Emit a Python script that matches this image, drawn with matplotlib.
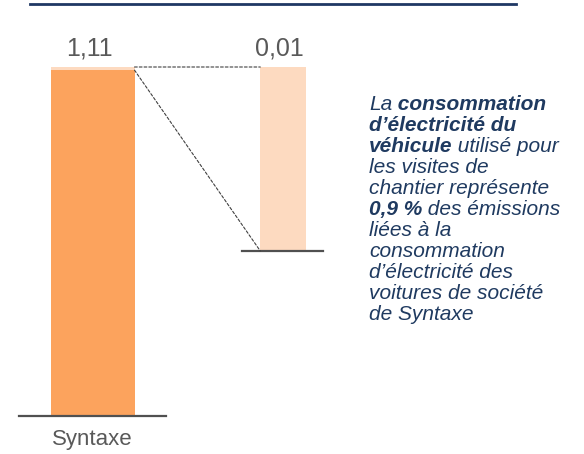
import matplotlib
matplotlib.use('Agg')
import matplotlib.pyplot as plt
from matplotlib.patches import ConnectionPatch
from matplotlib.lines import Line2D

# Données
categorie = 'Syntaxe'
total_syntaxe = 1.11
part_vehicule = 0.01
etiquettes = ['1,11', '0,01']

# Texte de commentaire (morceau, gras ?)
commentaire = [
    [('La', False), (' consommation', True)],
    [('d’électricité du', True)],
    [('véhicule', True), (' utilisé pour', False)],
    [('les visites de', False)],
    [('chantier représente', False)],
    [('0,9 %', True), (' des émissions', False)],
    [('liées à la', False)],
    [('consommation', False)],
    [('d’électricité des', False)],
    [('voitures de société', False)],
    [('de Syntaxe', False)],
]

ORANGE = '#FCA35D'
PECHE = '#FDDAC0'
GRIS = '#595959'
MARINE = '#1F3A60'
W, H = 584, 454

plt.rcParams['font.family'] = ['Liberation Sans', 'DejaVu Sans']

fig = plt.figure(figsize=(W / 100, H / 100), dpi=100)

def px_axes(x0, x1, y_top, y_bas):
    return fig.add_axes([x0 / W, 1 - y_bas / H, (x1 - x0) / W, (y_bas - y_top) / H])

# Barre principale
ax1 = px_axes(19, 166, 67, 416)
larg1 = 84 / 147
ax1.bar(0, total_syntaxe - part_vehicule, width=larg1, color=ORANGE)
ax1.bar(0, part_vehicule, bottom=total_syntaxe - part_vehicule, width=larg1, color=PECHE)
ax1.set_xlim(-0.5, 0.5)
ax1.set_ylim(0, total_syntaxe)
ax1.annotate(etiquettes[0], (0, total_syntaxe), xytext=(-2, 5), textcoords='offset points',
             ha='center', va='bottom', fontsize=18, color=GRIS, annotation_clip=False)
ax1.set_xticks([0])
ax1.set_xticklabels([categorie], fontsize=16, color=GRIS)

# Barre zoomée
ax2 = px_axes(242, 323, 67, 251)
larg2 = 46 / 81
ax2.bar(0.01, part_vehicule, width=larg2, color=PECHE)
ax2.set_xlim(-0.5, 0.5)
ax2.set_ylim(0, part_vehicule)
ax2.annotate(etiquettes[1], (0.01, part_vehicule), xytext=(-3, 5), textcoords='offset points',
             ha='center', va='bottom', fontsize=18, color=GRIS, annotation_clip=False)
ax2.set_xticks([])

for ax in (ax1, ax2):
    for s in ('top', 'left', 'right'):
        ax.spines[s].set_visible(False)
    ax.spines['bottom'].set_color('#505050')
    ax.spines['bottom'].set_linewidth(1.6)
    ax.set_yticks([])
    ax.tick_params(axis='x', length=0, pad=9)
    ax.patch.set_alpha(0)

# Lignes pointillées de liaison
for yA, yB in [(total_syntaxe, part_vehicule), (total_syntaxe - part_vehicule, 0)]:
    con = ConnectionPatch(xyA=(larg1 / 2, yA), coordsA=ax1.transData,
                          xyB=(0.01 - larg2 / 2, yB), coordsB=ax2.transData,
                          linestyle=(0, (2.5, 1.8)), color='#404040', linewidth=0.8)
    fig.add_artist(con)

# Ligne du haut
fig.add_artist(Line2D([30 / W, 516 / W], [1 - 3.5 / H] * 2, color='#1F3864', linewidth=2))

# Commentaire
renderer = fig.canvas.get_renderer()
x_dep, y0, pas = 369, 110, 21
for i, ligne in enumerate(commentaire):
    x = x_dep
    y = y0 + i * pas
    for morceau, gras in ligne:
        t = fig.text(x / W, 1 - y / H, morceau, fontsize=15, style='italic',
                     fontweight='bold' if gras else 'normal', color=MARINE,
                     ha='left', va='baseline')
        bb = t.get_window_extent(renderer)
        x = bb.x1

fig.savefig('out.png', dpi=100)
